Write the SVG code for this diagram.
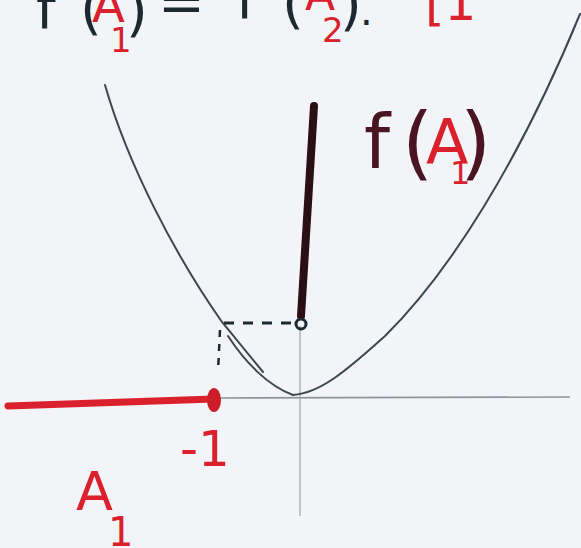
<svg xmlns="http://www.w3.org/2000/svg" width="581" height="548" viewBox="0 0 581 548">
<style>
.dk{fill:#1c2a30;font-family:"DejaVu Sans",sans-serif}
.rd{fill:#d9202c;font-family:"DejaVu Sans",sans-serif}
.mr{fill:#4a1420;font-family:"DejaVu Sans",sans-serif}
.curve{fill:none;stroke:#3c4850;stroke-width:2;stroke-linecap:round}
</style>
<rect width="581" height="548" fill="#f3f4f7"/>
<g id="equation">
<text class="dk" x="36" y="28" font-size="56">f</text>
<text class="dk" x="80" y="28" font-size="56">(</text>
<text class="rd" x="92" y="22" font-size="48">A</text>
<text class="rd" x="110" y="52" font-size="34">1</text>
<text class="dk" x="126" y="30" font-size="56">)</text>
<text class="dk" x="158" y="22" font-size="56">=</text>
<text class="dk" x="236" y="18" font-size="56">f</text>
<text class="dk" x="282" y="22" font-size="56">(</text>
<text class="rd" x="305" y="10" font-size="44">A</text>
<text class="rd" x="322" y="42" font-size="34">2</text>
<text class="dk" x="340" y="24" font-size="56">)</text>
<text class="dk" x="360" y="25" font-size="40">.</text>
<text class="rd" x="425" y="20" font-size="50">[1</text>
</g>
<g id="axes">
<line x1="220" y1="398" x2="570" y2="397" stroke="#8c959b" stroke-width="1.6"/>
<line x1="300" y1="326" x2="300" y2="516" stroke="#a2aaaf" stroke-width="1.3"/>
</g>
<g id="parabola">
<path class="curve" d="M105,85 C128,165 175,255 222,322 L263,372"/>
<path class="curve" d="M228,336 C245,362 268,386 293,395" stroke-width="4"/>
<path class="curve" d="M293,395 C320,393 345,372 385,336 C450,272 520,160 580,14" stroke-width="2.2"/>
</g>
<g id="domain">
<path d="M8,406 L214,399" stroke="#d9202c" stroke-width="7" stroke-linecap="round"/>
<ellipse cx="214" cy="400" rx="7" ry="12" fill="#cc1e28"/>
</g>
<g id="image">
<path d="M314,106 L301,316" stroke="#2a0f14" stroke-width="8" stroke-linecap="round"/>
<circle cx="301" cy="324" r="5" fill="none" stroke="#1c2a30" stroke-width="3"/>
<path d="M224,323 L294,323" stroke="#1c2a30" stroke-width="3" stroke-dasharray="10,9"/>
<path d="M220,330 L218,372" stroke="#1c2a30" stroke-width="2.5" stroke-dasharray="7,7"/>
</g>
<g id="labels">
<text class="mr" x="364" y="168" font-size="74">f</text>
<text class="mr" x="402" y="170" font-size="80">(</text>
<text class="rd" x="426" y="164" font-size="62">A</text>
<text class="rd" x="450" y="184" font-size="32">1</text>
<text class="mr" x="460" y="170" font-size="80">)</text>
<text class="rd" x="180" y="466" font-size="50">-1</text>
<text class="rd" x="76" y="510" font-size="54">A</text>
<text class="rd" x="108" y="546" font-size="40">1</text>
</g>
</svg>
